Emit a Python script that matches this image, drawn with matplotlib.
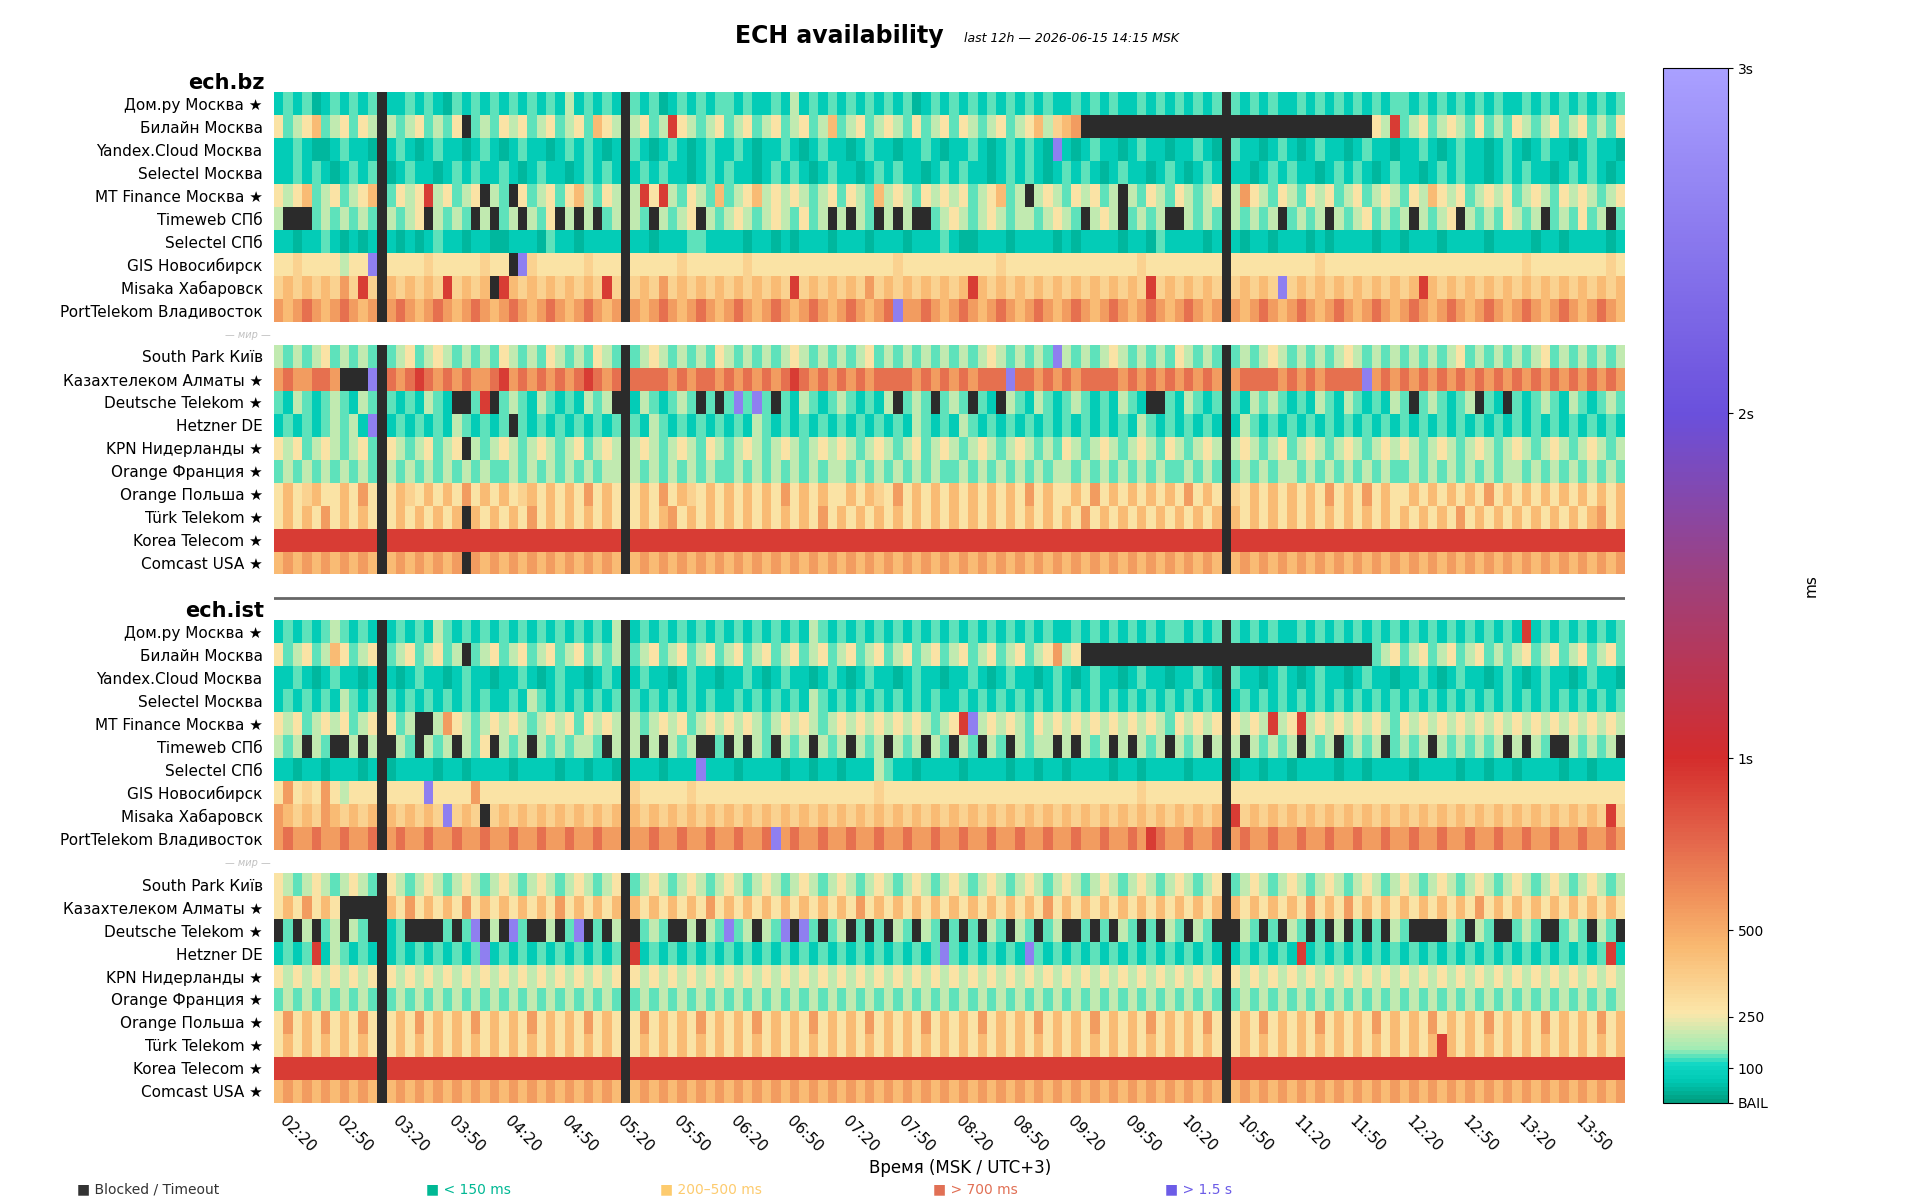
import numpy as np
import matplotlib.pyplot as plt
from matplotlib.colors import LinearSegmentedColormap, ListedColormap

# cell codes -> latency in ms ('x' = blocked / timeout)
CODE_MS = {'t': 40, 'c': 75, 'g': 135, 'l': 190, 'y': 270, 'Y': 340, 'o': 440,
           'O': 560, 'r': 720, 'R': 930, 'p': 2600}

start_min = 2 * 60 + 15   # first column 02:15, 5-minute bins
n_cols = 144
blocked_cols = [11, 37, 101]

names_ru = ["Дом.ру Москва ★", "Билайн Москва", "Yandex.Cloud Москва", "Selectel Москва",
            "MT Finance Москва ★", "Timeweb СПб", "Selectel СПб", "GIS Новосибирск",
            "Misaka Хабаровск", "PortTelekom Владивосток"]
names_world = ["South Park Київ", "Казахтелеком Алматы ★", "Deutsche Telekom ★", "Hetzner DE",
               "KPN Нидерланды ★", "Orange Франция ★", "Orange Польша ★", "Türk Telekom ★",
               "Korea Telecom ★", "Comcast USA ★"]

bz_ru = [
 "cgcgtcgcgcgl ccgcgctgcgcg cgcgcgclcgcg ccgcgtcgcgcg gcgccgclcgcg cgcgcgcgtcgc gcgcgcgcgcgc cgcgcgccgcgc gcgcgcgcgcgc cgcgcgcgcgcg gcgcgcgcgcgc cgcgcgcgcgcg",
 "yglyoglygyly lglyglgyxglg ylyglyglygoy lglyglRylgly glyglyglyglo glyglylgygly gylglyglyolY oOxxxxxxxxxx xxxxxxxxxxxx xxxxxxxxxylR glyglylgyglg ylglyglyglgy",
 "ccgcttcgcctc cgctcgcctcgc tcgcctcgcgct ccgctcgctcgc cgctccgctcgc ctcgcctccgct ccgctcgcgctp ctcgcctcgcct ccgctcgcctcg ctcgcctcgcct ccgctcgcctcg ctcgcctcgcct",
 "ccgcgctcgcgc tcgcctcgcgcc gctcgcctcgcg ctcgcgcctcgc gcctcgcgctcg cctcgcgcctcg cgcctcgcgctc gcgctcgcctcg ctcgcgcctcgc gcctcgcgctcg cctcgcgcctcg cgcctcgcgctc",
 "ylyoglyglyol gylyRlyglyxl gxyglygyolgy lylRyRlgylgo glyolylylgly gylgolylgyly lyglyoglxlyl gylyglxlgylg ylglyglOylgy lgylyglyglyl gyloylyglyly glylgylylgly",
 "lxxxglglglgx lglyxlglgxlx glxlgyxlxlxg lylgxlglyxlg lylglylgyglx lxlgxlxlxxgl ylglylgllgly lgxlylxglglx xlglgxlglglx glglxlglyglg lxlglyxlglgy lglxglgyglxg",
 "cctccgctctcc ctctcgcctcct tccctgcctccc ctcctcccggcc cctcctctccct ccctccctcccg cttccctcccct ctcccctcctgc ccctccctcctc cctctcccctcc tccctcccctcc cctcctcccctc",
 "yyYyyyylyypy yyyyYyyyyyYy yxpYyyyyyYyy yyyyyyyYyyyy yyYyyyyyyyyy yyyyyyYyyyyy yyyyyYyyyyyy yyyyyyyyYyyy yyyyyyyyyyyy yyyYyyyyyyyy yyyyyyyyyyyy yYyyyyyyyyYy",
 "YoYoYoYOYRYo oYoYoYRYoYox RoYoYoYoYoYR YoYoYOYoYoYo YoYoYoYRYoYo YoYOYoYoYoYo YoRoYoYoYoYo YoYoYoYoYRYo YoYoYoYoYoYp YoYoYoYoYoYo YoRoYoYoYoYo YoYoYoYoYoYo",
 "OoOrOoOrOoOr OrOoOrOoOrOo OrOoOrOoOrOo OrOoOrOoOrOo OrOoOrOoOrOo OrOoOrpOOrOo OrOoOrOoOrOo OrOoOrOoOrOo OrOoOrOoOrOo OrOoOrOoOrOo OrOoOrOoOrOo OrOoOrOoOrOo",
]
bz_world = [
 "lglglyglglgl glyglylglglg ylglgylglgyl glglylglglgy lglglglylglg lglyglglglgl glglylglglgp lglglylglglg ylglglglglyl glglglylglgl glglglyglglg lglyglglglgl",
 "OrOOrrOxxxpr rOrRrOrOrOOr ROrOrOrOrRrO rOrrrrOrOrrO rOrOrOrRrOrO rOrOrrrrOrOr OrOrrrprrOrO rOrrrrOrOrOr OrOrOrOrrrrO rOrOrrrrpOrO rOrOrOrOrOrO rOrOrOrOrOrO",
 "gclgcglgclgl gcgclgcxxgRx glgclgcgclgl xgclgcglgxgx gpgpgxgclgcg lgcgclxglgxg lgxgcxlgclgc glgcgclgcxxg clgcglgclglg cgclgclgcgcl gxglgcglxgcx gcglgclgcglg",
 "cgcgcglglcpg cgcgcgclgcgc gxgcgcgcgcgc gcgclgcgcgcg cgclgcgcgcgc gcgcgcgclgcg clgcgcgcgcgc gcgcgcgclgcg cgcgcgclgcgc gcgcgcgcgcgc gcgcgcgcgcgc gcgcgcgcgcgc",
 "ylyglylglygl ylglyglyxlgl ylglylglygly lglylglylgyl glylglylglyl ylglylglygly lglylglylglg ylglylglylgy lglylglylgly glylglylglyl ylglylglylgl ylglylglylgl",
 "glglglglglgl lglglglglglg glglglglglgl lglglglglglg glglglglglgl lglglglglglg glglglglglgl lglglglglglg glglglglglgl lglglglglglg glglglglglgl lglglglglglg",
 "yoyYoyyoyOyo yoYyoyoyOyoy oyYoyoyoyOyo yoyoyOyoYyoy oyoyoyOyoyoy yoyoYyOyoyoy oyoyoyoyOyoy yoyOyoyoyoyo yOyoyoYyoyoy oyoyOyoyOyoy yoyoyoyoyOyo yoyoyoyoyoyo",
 "yoyoyOyoyoyO yoyoyoyoxoyo yoyOyoyoyoyo yoyoyoOyoyoy oyoyoyoyoyOy oyoyoyoyoyoy oyoyoyoyoyoy oyOyoyoyoyoy oyoyoyoyoyoy oyoyoyoyoyoy oyoyoyOyoyoy oyoyoyoyoOyo",
 "RRRRRRRRRRRR RRRRRRRRRRRR RRRRRRRRRRRR RRRRRRRRRRRR RRRRRRRRRRRR RRRRRRRRRRRR RRRRRRRRRRRR RRRRRRRRRRRR RRRRRRRRRRRR RRRRRRRRRRRR RRRRRRRRRRRR RRRRRRRRRRRR",
 "oOoOoOoOoOoO oOoOoOoOxOoO oOoOoOoOoOoO oOoOoOoOoOoO oOoOoOoOoOoO oOoOoOoOoOoO oOoOoOoOoOoO oOoOoOoOoOoO oOoOoOoOoOoO oOoOoOoOoOoO oOoOoOoOoOoO oOoOoOoOoOoO",
]
ist_ru = [
 "cgcgcglgcgcg cgcgclgcgcgc gcgcgcgcgcgc lgcgcgcgcgcg cgcgcgcgclgc gcgcgcgcgcgc gcgcgcgcgcgc cgcgcgcgcgcg gcgcgcgcgcgc cgcgcgcgcgcg cgcgcgcgcgcg cRcgcgcgcgcg",
 "yglygloyglyl glyglyglxgly glyglyglyglg lyglyglyglyg lyglyglyglyg lyglyglyglyg lyglyglyglyO lyxxxxxxxxxx xxxxxxxxxxxx xxxxxxxxxgly glyglyglyglg lyglyglyglyg",
 "ccgctcgcctcg ctcgcctcgcct ccgctcgcctcg ctcgcctcgcct ccgctcgcctcg ctcgcctcgcct ccgctcgcctcg ctcgcctcgcct ccgctcgcctcg ctcgcctcgcct ccgctcgcctcg ctcgcctcgcct",
 "cgcgcgclgcgc gcgcgcgcgcgc cgclgcgcgcgc gcgcgcgcgcgc cgcgcgcgclgc gcgcgcgcgcgc cgcgcgcgcgcg cgcgcgcgcgcg cgcgcgcgcgcg cgcgcgcgcgcg cgcgcgcgcgcg cgcgcgcgcgcg",
 "ylyglylyglyl yglxxlOylgly lylglylygyly lylglylyglyl ylylglylylgl ylylylylylgl yRplylylgyly lylylylylylg ylylylylylRl yRlylylylylg ylylylylylyl ylylylylylyl",
 "lglxlgxxlxlg xlgxlglxlgyx lglxlglgllgx lglxlxlglxxg xlxlgxlglxlg lxlglxlglxlg xlgxlgxlgllx lxlglxlxlglx lglxlglxlglg lxlglxglglxg lglxlglglglx lxlgxxlglglx",
 "cctcctccctcc tcccctcctccc ctcccctcctcc tcccctcccpcc ctcccctcctcc tccclgcctccc ctcccctcctcc tcccctcctccc ctcccctcctcc tcccctcctccc ctcccctcctcc tcccctcctccc",
 "yOyYyOylyyyy yyyypyyyyOyy yyyyyyyyyyyy yyYyyyyyYyyy yyyyyyyyyyyy yyyyYyyyyyyy yyyyyyyyyyyy yyyyyyyyYyyy yyyyyyyyyyyy yyyyyyyyyyyy yyyyyyyyyyyy yyyyyyyyyyyy",
 "OoYoYOoYoYoY oYoYoYpYoYxY oYoYoYoYoYoY oYoYoYoYoYoY oYoYoYoYoYoY oYoYoYoYoYoY oYoYoYoYoYoY oYoYoYoYoYoY oYoYoYRYoYoY oYoYoYoYoYoY oYoYoYoYoYoY oYoYoYoYoYRY",
 "OrOOrOOrOOrO OrOOrOOrOOrO OrOOrOOrOOrO OrOOrOOrOOrO OrOOrpOrOOrO OrOOrOOrOOrO OrOOrOOrOOrO OrOOrOOrORrO OrOOrOOrOOrO OrOOrOOrOOrO OrOOrOOrOOrO OrOOrOOrOOrO",
]
ist_world = [
 "ylglylglylgl ylglylglylgl ylglylglylgl ylglylglylgl ylglylglylgl ylglylglylgl ylglylglylgl ylglylglylgl ylglylglylgl ylglylglylgl ylglylglylgl ylglylglylgl",
 "yoyOyoyxxxxp oyOyoyoyOyoy oyoyoyOyoyoy oyoyoyoyoyOy oyoyoyoyoyoy oyOyoyoyoyoy oyoyoyoyoyOy oyoyoyoyoyoy oyoyoyoyoyoy oyOyoyOyoyoy oyoyoyoyOyoy oyoyoyoyoyoy",
 "xgxlxglxlgxg cgxxxxgxgpxl xpgxxlxgpxgx lxxglgxxlxlg pglxlgpxpgxg lxgxgxlgxlgx gxgxlgxlgxgl xxgxgxlgxgxl gxlgxgxlgxgx lgxgxlxgxgxl gxxxxlgxlgxx glgxxglgxlgx",
 "cgcgRclgcgcg cgcgcgcgcgpc gcgcgcgcgcgc gcRcgcgcgcgc gcgcgcgcgcgc gcgcgcgcgcgp gcgcgcgcpgcg cgcgcgcgcgcg cgcgcgcgcgcg cRcgcgcgcgcg cgcgcgcgcgcg cgcgcgcgcgRc",
 "ylylylylylyl ylylylylylyl ylylylylylyl ylylylylylyl ylylylylylyl ylylylylylyl ylylylylylyl ylylylylylyl ylylylylylyl ylylylylylyl ylylylylylyl ylylylylylyl",
 "glglglglglgl glglglglglgl glglglglglgl glglglglglgl glglglglglgl glglglglglgl glglglglglgl glglglglglgl glglglglglgl glglglglglgl glglglglglgl glglglglglgl",
 "yOyoyOyoyOyo yoyOyoyoyOyo yoyOyoyoyOyo yoyOyoyoyOyo yoyOyoyoyOyo yoyOyoyoyOyo yoyOyoyoyOyo yoyOyoyoyOyo yoyOyoyoyOyo yoyOyoyoyOyo yoyOyoyoyOyo yoyOyoyoyOyo",
 "yoyoyoyoyoyo yoyoyoyoyoyo yoyoyoyoyoyo yoyoyoyoyoyo yoyoyoyoyoyo yoyoyoyoyoyo yoyoyoyoyoyo yoyoyoyoyoyo yoyoyoyoyoyo yoyoyoyoyoyo yoyoRoyoyoyo yoyoyoyoyoyo",
 "RRRRRRRRRRRR RRRRRRRRRRRR RRRRRRRRRRRR RRRRRRRRRRRR RRRRRRRRRRRR RRRRRRRRRRRR RRRRRRRRRRRR RRRRRRRRRRRR RRRRRRRRRRRR RRRRRRRRRRRR RRRRRRRRRRRR RRRRRRRRRRRR",
 "oOoOoOoOoOoO oOoOoOoOoOoO oOoOoOoOoOoO oOoOoOoOoOoO oOoOoOoOoOoO oOoOoOoOoOoO oOoOoOoOoOoO oOoOoOoOoOoO oOoOoOoOoOoO oOoOoOoOoOoO oOoOoOoOoOoO oOoOoOoOoOoO",
]

def rows_to_array(rows):
    vals = np.full((len(rows), n_cols), np.nan)
    blk = np.zeros((len(rows), n_cols))
    for i, s in enumerate(rows):
        s = s.replace(" ", "")
        s = s.ljust(n_cols, s[-1])[:n_cols]
        for j, ch in enumerate(s):
            if ch == 'x':
                blk[i, j] = 1
            else:
                vals[i, j] = CODE_MS[ch]
        blk[i, blocked_cols] = 1
    return vals, blk

gap = lambda n: (np.full((n, n_cols), np.nan), np.zeros((n, n_cols)))
parts = [rows_to_array(bz_ru), gap(1), rows_to_array(bz_world), gap(2),
         rows_to_array(ist_ru), gap(1), rows_to_array(ist_world)]
V = np.vstack([p[0] for p in parts])
B = np.vstack([p[1] for p in parts])

labels = names_ru + [""] + names_world + ["", ""] + names_ru + [""] + names_world

cmap = LinearSegmentedColormap.from_list("lat", [
    (0.0, "#009e80"), (0.02, "#00c9b4"), (0.035, "#10d8c4"), (0.05, "#a0ecb4"),
    (0.085, "#fbe7aa"), (0.15, "#f9b870"), (0.2, "#f0905a"), (0.25, "#e4684c"),
    (0.333, "#d42c2c"), (0.5, "#a0407a"), (0.667, "#6a50dc"), (1.0, "#a9a0ff")])
cmap.set_bad("white")

fig = plt.figure(figsize=(19.2, 12), dpi=100)
ax = fig.add_axes([0.1426, 0.081, 0.7035, 0.842])
im = ax.imshow(V, aspect="auto", cmap=cmap, vmin=0, vmax=3000, interpolation="nearest")
Bm = np.ma.masked_where(B == 0, B)
ax.imshow(Bm, aspect="auto", cmap=ListedColormap(["#2b2b2b"]), interpolation="nearest")

ax.set_yticks(range(len(labels)))
ax.set_yticklabels(labels, fontsize=11)
ax.tick_params(axis="y", length=0, pad=8)
tick_cols = list(range(1, n_cols, 6))
tick_lbls = ["%02d:%02d" % divmod(start_min + 5 * c, 60) for c in tick_cols]
ax.set_xticks(tick_cols)
ax.set_xticklabels(tick_lbls, rotation=-45, ha="left", rotation_mode="anchor", fontsize=11)
ax.tick_params(axis="x", length=0, pad=8)
for s in ax.spines.values():
    s.set_visible(False)
ax.axhline(21.5, color="#666666", lw=2)
fig.text(0.5, 0.027, "Время (MSK / UTC+3)", ha="center", va="center", fontsize=12)

for r, t in [(-0.9, "ech.bz"), (22.1, "ech.ist")]:
    ax.text(-1.5, r, t, ha="right", va="center", fontsize=15, fontweight="bold")
for r in [10.05, 33.05]:
    ax.text(-0.8, r, "— мир —", ha="right", va="center", fontsize=7, style="italic", color="#c0c0c0")

fig.text(0.437, 0.97, "ECH availability", ha="center", va="center", fontsize=17, fontweight="bold")
fig.text(0.502, 0.968, "last 12h — 2026-06-15 14:15 MSK", ha="left", va="center", fontsize=9, style="italic")

cax = fig.add_axes([0.866, 0.081, 0.034, 0.862])
cb = fig.colorbar(im, cax=cax)
cb.set_ticks([0, 100, 250, 500, 1000, 2000, 3000])
cb.set_ticklabels(["BAIL", "100", "250", "500", "1s", "2s", "3s"])
cb.ax.tick_params(labelsize=10)
cb.set_label("ms", fontsize=11, labelpad=25)

legend = [("■ Blocked / Timeout", "#333333", 0.04), ("■ < 150 ms", "#00b894", 0.222),
          ("■ 200–500 ms", "#fdcb6e", 0.344), ("■ > 700 ms", "#e17055", 0.486),
          ("■ > 1.5 s", "#6c5ce7", 0.607)]
for t, c, x in legend:
    fig.text(x, 0.003, t, color=c, fontsize=10, ha="left", va="bottom")

fig.savefig("out.png", dpi=100)
